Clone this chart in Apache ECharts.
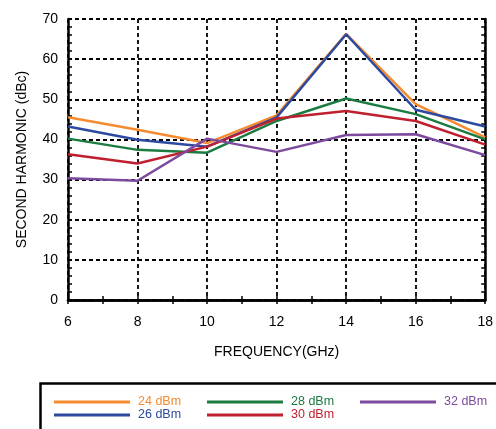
<!DOCTYPE html>
<html>
<head>
<meta charset="utf-8">
<script src="https://cdn.jsdelivr.net/npm/echarts@6/dist/echarts.min.js"></script>
<style>html,body{margin:0;padding:0;background:#fff;}#c{width:496px;height:429px;}</style>
</head>
<body>
<div id="c"></div>
<script>
const freq = [6, 8, 10, 12, 14, 16, 18];
const names = ['24 dBm', '26 dBm', '28 dBm', '30 dBm', '32 dBm'];
const s24 = [45.5, 42.4, 39.1, 46.0, 66.3, 48.8, 40.5];
const s26 = [43.2, 39.9, 38.2, 45.5, 66.2, 47.4, 43.2];
const s28 = [40.2, 37.4, 36.7, 44.6, 50.2, 46.3, 40.0];
const s30 = [36.3, 34.0, 38.2, 45.2, 47.1, 44.6, 38.7];
const s32 = [30.3, 29.7, 40.2, 36.9, 41.1, 41.3, 36.1];
const colors = ['#F68B2F', '#2C4A9F', '#1C7B40', '#BF1F2E', '#7D4A9E'];
const allSeries = [s24, s26, s28, s30, s32];

const FONT = '"Liberation Sans", Arial, Helvetica, sans-serif';
const chart = echarts.init(document.getElementById('c'), null, {renderer: 'canvas'});

// legend slot positions (column left, row top)
const legPos = [[54, 395.5], [54, 408.5], [207, 395.5], [207, 408.5], [360, 395.5]];
function mkLegend(i) {
  return {
    orient: 'horizontal', left: legPos[i][0], top: legPos[i][1], padding: 0,
    icon: 'rect', itemWidth: 76, itemHeight: 3,
    selectedMode: false,
    textStyle: {fontFamily: FONT, fontSize: 12.5, lineHeight: 13, color: colors[i], padding: [0, 0, 0, 3]},
    data: [{name: names[i], textStyle: {color: colors[i]}}]
  };
}

const xCommon = {
  type: 'value', min: 6, max: 18, interval: 2,
  axisLine: {show: true, lineStyle: {color: '#000', width: 2.5}},
  axisTick: {show: true, inside: true, length: 4, lineStyle: {color: '#000', width: 1.5}},
  minorTick: {show: true, splitNumber: 2, length: 4, lineStyle: {color: '#000', width: 1.5}},
};
const yCommon = {
  type: 'value', min: 0, max: 70, interval: 10,
  axisLine: {show: true, lineStyle: {color: '#000', width: 2.5}},
  axisTick: {show: true, inside: true, length: 4, lineStyle: {color: '#000', width: 1.5}},
  minorTick: {show: true, splitNumber: 5, length: 4, lineStyle: {color: '#000', width: 1.5}},
};
const dashed = {show: true, lineStyle: {color: '#000', width: 1.8, type: [4, 3]}};

chart.setOption({
  animation: false,
  backgroundColor: '#fff',
  grid: {left: 68, right: 9, top: 19, bottom: 129, containLabel: false},
  legend: [0, 1, 2, 3, 4].map(mkLegend),
  graphic: [{
    type: 'rect', left: 38, top: 381,
    shape: {x: 0, y: 0, width: 480, height: 70},
    style: {fill: 'none', stroke: '#000', lineWidth: 2.5},
    silent: true
  }],
  xAxis: [
    Object.assign({}, xCommon, {
      position: 'bottom',
      name: 'FREQUENCY(GHz)', nameLocation: 'middle', nameGap: 45,
      nameTextStyle: {fontFamily: FONT, fontSize: 14, color: '#000'},
      axisLabel: {fontFamily: FONT, fontSize: 14, color: '#000', margin: 15},
      splitLine: dashed
    }),
    Object.assign({}, xCommon, {
      position: 'top', axisLabel: {show: false}, splitLine: {show: false}
    })
  ],
  yAxis: [
    Object.assign({}, yCommon, {
      position: 'left',
      name: 'SECOND HARMONIC (dBc)', nameLocation: 'middle', nameGap: 39,
      nameTextStyle: {fontFamily: FONT, fontSize: 14, color: '#000'},
      axisLabel: {fontFamily: FONT, fontSize: 14, color: '#000', margin: 10},
      splitLine: dashed
    }),
    Object.assign({}, yCommon, {
      position: 'right', axisLabel: {show: false}, splitLine: {show: false}
    })
  ],
  series: allSeries.map((arr, i) => ({
    name: names[i], type: 'line', xAxisIndex: 0, yAxisIndex: 0,
    data: freq.map((f, j) => [f, arr[j]]),
    showSymbol: false, symbol: 'none',
    lineStyle: {color: colors[i], width: 2.5},
    itemStyle: {color: colors[i]},
    z: 3
  }))
});
</script>
</body>
</html>
